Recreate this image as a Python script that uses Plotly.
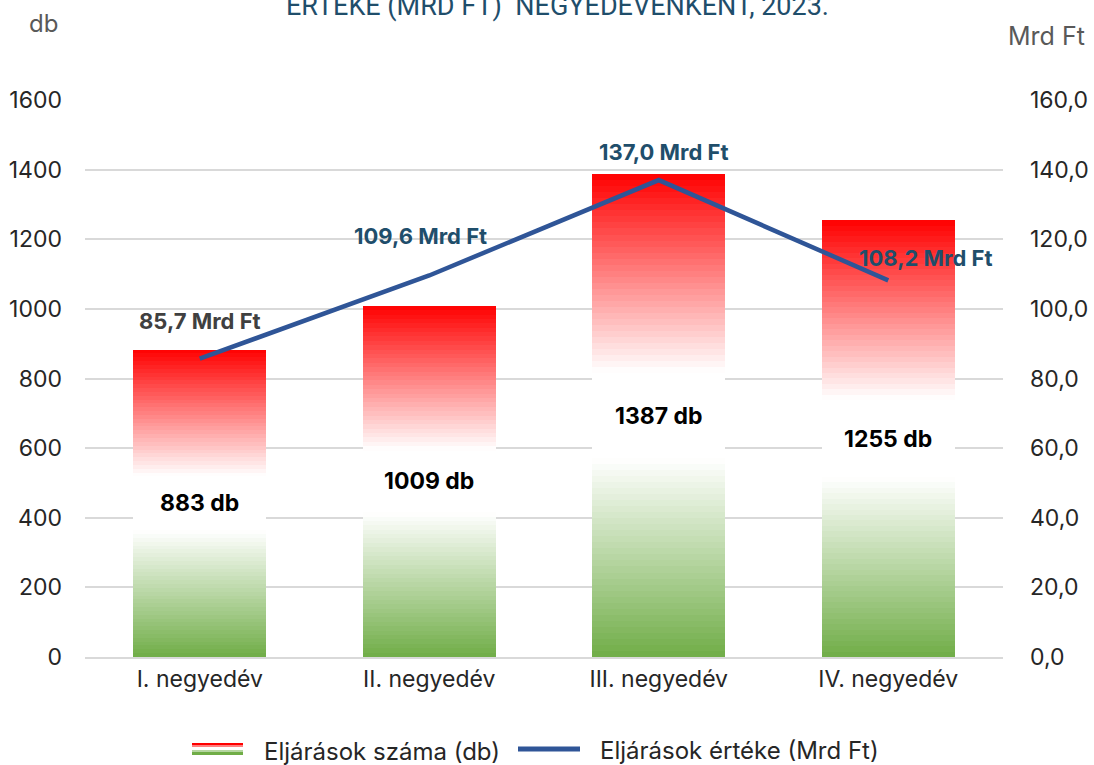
import plotly.graph_objects as go

categories = ["I. negyedév", "II. negyedév", "III. negyedév", "IV. negyedév"]
counts_db = [883, 1009, 1387, 1255]
values_mrd = [85.7, 109.6, 137.0, 108.2]
left_ticks = [0, 200, 400, 600, 800, 1000, 1200, 1400, 1600]
right_ticks = [0, 20, 40, 60, 80, 100, 120, 140, 160]

W, H = 1094, 765
ML, MR, MT, MB = 85, 91, 100, 108
PW, PH = W - ML - MR, H - MT - MB
FONT = "Inter"

def px2x(px):
    return (px - ML) / PW

def py2y(py):
    return (H - MB - py) / PH

RED = (255, 0, 0)
WHITE = (255, 255, 255)
GREEN = (112, 173, 71)

def grad_color(f):
    # f: 0 bottom -> 1 top
    if f >= 0.59:
        t = (f - 0.59) / 0.41
        c = [WHITE[i] + (RED[i] - WHITE[i]) * t for i in range(3)]
    elif f <= 0.41:
        t = (0.41 - f) / 0.41
        c = [WHITE[i] + (GREEN[i] - WHITE[i]) * t for i in range(3)]
    else:
        c = WHITE
    return "rgb(%d,%d,%d)" % tuple(round(v) for v in c)

fig = go.Figure()
N = 80
for k in range(N):
    f = (k + 0.5) / N
    fig.add_trace(go.Bar(
        x=categories, y=[v / N for v in counts_db],
        marker=dict(color=grad_color(f), line=dict(width=0)),
        showlegend=False, hoverinfo="skip", yaxis="y",
    ))

fig.add_trace(go.Scatter(
    x=categories, y=values_mrd, yaxis="y2", mode="lines",
    line=dict(color="#2F5597", width=4.5), showlegend=False,
))

ann = []
# bar labels
for c, v in zip(categories, counts_db):
    ann.append(dict(x=c, y=v / 2, xref="x", yref="y", text=f"<b>{v} db</b>",
                    xanchor="center", yanchor="middle",
                    showarrow=False, font=dict(family=FONT, size=23, color="#000000")))
# line labels
offsets = [(0, 38), (-9, 39), (5, 28), (38, 22)]
label_colors = ["#404040", "#1F4E6B", "#1F4E6B", "#1F4E6B"]
for c, v, (dx, dy), col in zip(categories, values_mrd, offsets, label_colors):
    ann.append(dict(x=c, y=v, xref="x", yref="y2",
                    text="<b>" + f"{v:.1f}".replace(".", ",") + " Mrd Ft</b>",
                    xanchor="center", yanchor="middle",
                    showarrow=False, xshift=dx, yshift=dy,
                    font=dict(family=FONT, size=22, color=col)))
# axis titles
ann.append(dict(x=px2x(43), y=py2y(23), xref="paper", yref="paper", text="db",
                xanchor="center", yanchor="middle",
                showarrow=False, font=dict(family=FONT, size=24, color="#595959")))
ann.append(dict(x=px2x(1046), y=py2y(36), xref="paper", yref="paper", text="Mrd Ft",
                xanchor="center", yanchor="middle",
                showarrow=False, font=dict(family=FONT, size=25, color="#595959")))
# clipped title line
ann.append(dict(x=px2x(557), y=py2y(6), xref="paper", yref="paper",
                text="ÉRTÉKE (MRD FT)  NEGYEDÉVENKÉNT, 2023.",
                xanchor="center", yanchor="middle",
                showarrow=False, font=dict(family="Roboto", size=27, color="#1F4E6B")))
# legend texts
ann.append(dict(x=px2x(262), y=py2y(751), xref="paper", yref="paper",
                xanchor="left", yanchor="middle",
                text="Eljárások száma (db)", showarrow=False,
                font=dict(family=FONT, size=24, color="#262626")))
ann.append(dict(x=px2x(598), y=py2y(750), xref="paper", yref="paper",
                xanchor="left", yanchor="middle",
                text="Eljárások értéke (Mrd Ft)", showarrow=False,
                font=dict(family=FONT, size=24, color="#262626")))

shapes = []
stripes = [(743, 745, "#FF0000"), (745, 747, "#FF8080"), (747, 750, "#FFFFFF"),
           (750, 752, "#B5D6A0"), (752, 755, "#70AD47")]
for y0, y1, col in stripes:
    shapes.append(dict(type="rect", xref="paper", yref="paper",
                       x0=px2x(192), x1=px2x(243), y0=py2y(y1), y1=py2y(y0),
                       fillcolor=col, line=dict(width=0), layer="above"))
shapes.append(dict(type="line", xref="paper", yref="paper",
                   x0=px2x(518), x1=px2x(580), y0=py2y(749), y1=py2y(749),
                   line=dict(color="#2F5597", width=5)))

fig.update_layout(
    width=W, height=H,
    margin=dict(l=ML, r=MR, t=MT, b=MB, autoexpand=False),
    paper_bgcolor="white", plot_bgcolor="white",
    barmode="stack", bargap=0.42,
    showlegend=False,
    font=dict(family=FONT, size=23, color="#262626"),
    xaxis=dict(showgrid=False, showline=True, linecolor="#D9D9D9", linewidth=2,
               automargin=False, ticks="", tickfont=dict(size=23, color="#262626")),
    yaxis=dict(range=[0, 1600], tickvals=left_ticks, ticktext=[str(t) for t in left_ticks],
               showgrid=True, gridcolor="#D9D9D9", gridwidth=2, zeroline=False,
               automargin=False, showline=False, ticks="", ticklabelstandoff=22,
               tickfont=dict(size=23, color="#262626")),
    yaxis2=dict(range=[0, 160], overlaying="y", side="right", tickvals=right_ticks,
                ticktext=[f"{t:.1f}".replace(".", ",") for t in right_ticks],
                showgrid=False, zeroline=False, showline=False, ticks="",
                automargin=False, ticklabelstandoff=26,
                tickfont=dict(size=23, color="#262626")),
    annotations=ann, shapes=shapes,
)

fig.write_html("out.html", config={"displayModeBar": False},
               post_script="document.body.style.margin='0';document.body.style.overflow='hidden';")
